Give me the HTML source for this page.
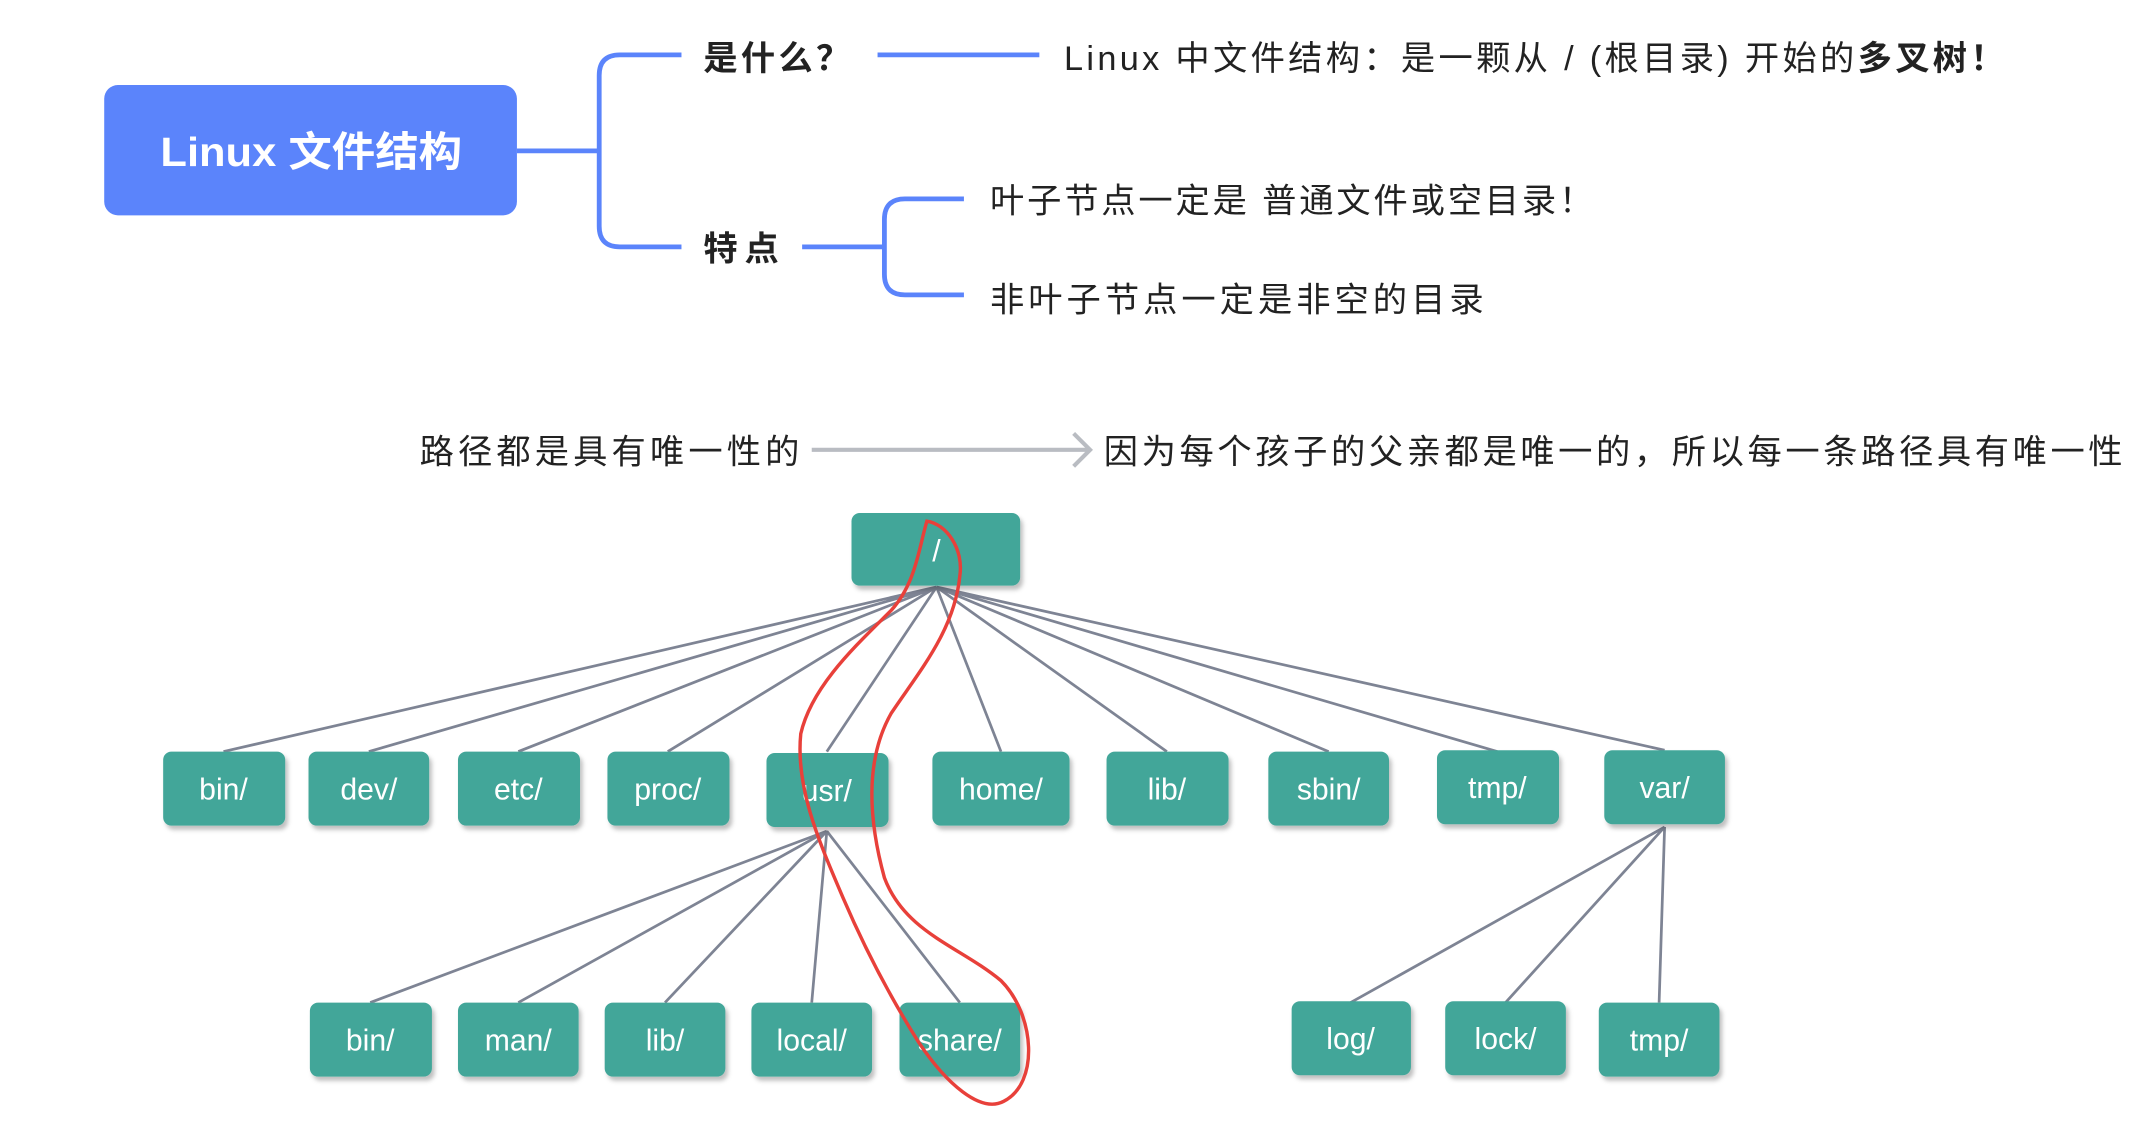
<!DOCTYPE html>
<html><head><meta charset="utf-8"><style>
html,body{margin:0;padding:0;background:#fff;width:2150px;height:1126px;overflow:hidden}
svg{display:block}
text{font-family:"Liberation Sans","Noto Sans CJK SC",sans-serif}
</style></head><body>
<svg width="2150" height="1126" viewBox="0 0 1568 821" preserveAspectRatio="none">
<defs>
<filter id="sh" x="-20%" y="-20%" width="150%" height="160%"><feDropShadow dx="2" dy="3" stdDeviation="1.5" flood-color="#000" flood-opacity="0.25"/></filter>
</defs>
<rect x="76" y="62" width="301" height="95" rx="10" fill="#5b84fb"/>
<text x="117" y="121" font-size="30" font-weight="bold" fill="#fff" textLength="220" lengthAdjust="spacingAndGlyphs">Linux 文件结构</text>
<g fill="none" stroke="#5b84fb" stroke-width="3.5">
<path d="M377 110 H437"/>
<path d="M497 40 H452 Q437 40 437 55 V165 Q437 180 452 180 H497"/>
<path d="M640 40 H758"/>
<path d="M585 180 H645"/>
<path d="M703 145 H660 Q645 145 645 160 V200 Q645 215 660 215 H703"/>
</g>
<text x="513" y="51" font-size="25" font-weight="bold" fill="#222" textLength="107" lengthAdjust="spacing">是什么？</text>
<text x="776" y="51" font-size="25" fill="#222" textLength="686" lengthAdjust="spacing">Linux 中文件结构：是一颗从  / (根目录) 开始的<tspan font-weight="bold">多叉树！</tspan></text>
<text x="513" y="190" font-size="25" font-weight="bold" fill="#222" textLength="55" lengthAdjust="spacing">特点</text>
<text x="722" y="155" font-size="25" fill="#222" textLength="440" lengthAdjust="spacing">叶子节点一定是 普通文件或空目录！</text>
<text x="722" y="227" font-size="25" fill="#222" textLength="360" lengthAdjust="spacing">非叶子节点一定是非空的目录</text>
<text x="306" y="338" font-size="25" fill="#222" textLength="277" lengthAdjust="spacing">路径都是具有唯一性的</text>
<g fill="none" stroke="#b9bcc2" stroke-width="3"><path d="M592 328 H793"/><path d="M783 316 L795 328 L783 340"/></g>
<text x="805" y="338" font-size="25" fill="#222" textLength="743" lengthAdjust="spacing">因为每个孩子的父亲都是唯一的，所以每一条路径具有唯一性</text>
<g stroke="#7e8494" stroke-width="2" fill="none">
<path d="M683 428 L163 548 M683 428 L269 548 M683 428 L378 548 M683 428 L487 548 M683 428 L603 548 M683 428 L730 548 M683 428 L851 548 M683 428 L969 548 M683 428 L1092 548 M683 428 L1214 547"/>
<path d="M603 606 L270 731 M603 606 L378 731 M603 606 L485 731 M603 606 L592 731 M603 606 L700 731"/>
<path d="M1214 603 L985 731 M1214 603 L1098 731 M1214 603 L1210 731"/>
</g>
<g fill="#43a699" filter="url(#sh)">
<rect x="621" y="374" width="123" height="53" rx="6"/>
<rect x="119" y="548" width="89" height="54" rx="6"/>
<rect x="225" y="548" width="88" height="54" rx="6"/>
<rect x="334" y="548" width="89" height="54" rx="6"/>
<rect x="443" y="548" width="89" height="54" rx="6"/>
<rect x="559" y="549" width="89" height="54" rx="6"/>
<rect x="680" y="548" width="100" height="54" rx="6"/>
<rect x="807" y="548" width="89" height="54" rx="6"/>
<rect x="925" y="548" width="88" height="54" rx="6"/>
<rect x="1048" y="547" width="89" height="54" rx="6"/>
<rect x="1170" y="547" width="88" height="54" rx="6"/>
<rect x="226" y="731" width="89" height="54" rx="6"/>
<rect x="334" y="731" width="88" height="54" rx="6"/>
<rect x="441" y="731" width="88" height="54" rx="6"/>
<rect x="548" y="731" width="88" height="54" rx="6"/>
<rect x="656" y="731" width="88" height="54" rx="6"/>
<rect x="942" y="730" width="87" height="54" rx="6"/>
<rect x="1054" y="730" width="88" height="54" rx="6"/>
<rect x="1166" y="731" width="88" height="54" rx="6"/>
</g>
<g fill="#fff" font-size="22" text-anchor="middle">
<text x="683" y="409">/</text>
<text x="163" y="583">bin/</text><text x="269" y="583">dev/</text><text x="378" y="583">etc/</text><text x="487" y="583">proc/</text><text x="603" y="584">usr/</text><text x="730" y="583">home/</text><text x="851" y="583">lib/</text><text x="969" y="583">sbin/</text><text x="1092" y="582">tmp/</text><text x="1214" y="582">var/</text>
<text x="270" y="766">bin/</text><text x="378" y="766">man/</text><text x="485" y="766">lib/</text><text x="592" y="766">local/</text><text x="700" y="766">share/</text>
<text x="985" y="765">log/</text><text x="1098" y="765">lock/</text><text x="1210" y="766">tmp/</text>
</g>
<path d="M676 380 C690 382 703 400 700 420 C696 460 670 490 650 520 C630 555 634 600 645 640 C660 680 700 690 730 715 C755 740 758 790 732 803 C715 812 690 790 670 760 C648 725 630 690 615 655 C598 615 580 575 584 535 C592 500 625 470 650 445 C668 425 670 400 676 380 Z" fill="none" stroke="#e8403a" stroke-width="2.5"/>
</svg>
</body></html>
